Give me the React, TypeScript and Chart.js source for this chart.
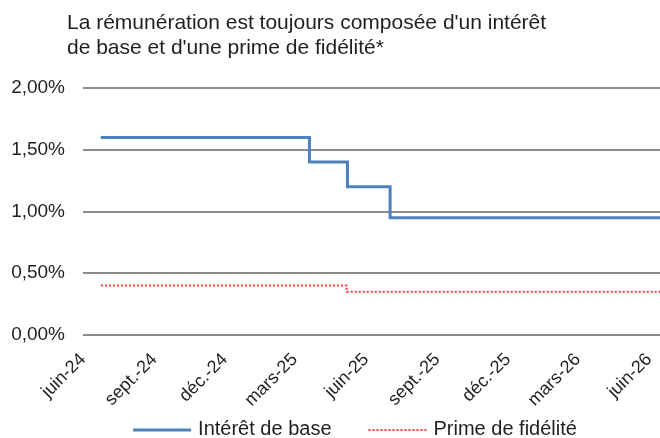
import { useEffect, useRef } from 'react';
import { Chart, registerables } from 'chart.js';

Chart.register(...registerables);

const TITLE_LINES = [
  "La rémunération est toujours composée d'un intérêt",
  "de base et d'une prime de fidélité*",
];
const TICK_DATES = [
  '2024-06-01', '2024-09-01', '2024-12-01', '2025-03-01', '2025-06-01',
  '2025-09-01', '2025-12-01', '2026-03-01', '2026-06-01',
];
const TICK_LABELS = [
  'juin-24', 'sept.-24', 'déc.-24', 'mars-25', 'juin-25',
  'sept.-25', 'déc.-25', 'mars-26', 'juin-26',
];
const X_MIN_DATE = '2024-06-01';
const X_MAX_DATE = '2026-06-15';
const Y_MIN = 0;
const Y_MAX = 2;
const Y_STEP = 0.5;

const SERIES_LABELS = ['Intérêt de base', 'Prime de fidélité'];
const BASE_DATES = ['2024-06-24', '2025-03-20', '2025-05-08', '2025-07-02', '2026-06-30'];
const BASE_VALUES = [1.6, 1.4, 1.2, 0.95, 0.95];
const PRIME_DATES = ['2024-06-24', '2025-05-07', '2026-06-30'];
const PRIME_VALUES = [0.4, 0.35, 0.35];

const FONT = "'Liberation Sans', Arial, sans-serif";
const TEXT_COLOR = '#1f1f1f';

const ORIGIN = Date.parse(X_MIN_DATE + 'T00:00:00Z');
const toDay = (s: string) => (Date.parse(s + 'T00:00:00Z') - ORIGIN) / 86400000;
const TICK_DAYS = TICK_DATES.map(toDay);

const titleShift = {
  id: 'titleShift',
  afterLayout(chart: any) {
    const t = chart.titleBlock;
    if (t) {
      t.left = 67;
    }
  },
};

const customLegend = {
  id: 'customLegend',
  afterDraw(chart: any) {
    const ctx = chart.ctx as CanvasRenderingContext2D;
    const lineLen = 58;
    const gapText = 7;
    const gapItems = 37;
    const centerX = 355;
    const y = 429;
    ctx.save();
    ctx.font = `20px ${FONT}`;
    const items = chart.data.datasets.map((ds: any) => ({
      text: ds.label as string,
      color: ds.borderColor as string,
      width: ds.borderWidth as number,
      dash: (ds.borderDash || []) as number[],
      tw: ctx.measureText(ds.label).width,
    }));
    let total = 0;
    items.forEach((it: any, i: number) => {
      total += lineLen + gapText + it.tw + (i < items.length - 1 ? gapItems : 0);
    });
    let x = centerX - total / 2;
    items.forEach((it: any) => {
      ctx.beginPath();
      ctx.setLineDash(it.dash);
      ctx.lineWidth = it.width;
      ctx.strokeStyle = it.color;
      ctx.moveTo(x, y + 1);
      ctx.lineTo(x + lineLen, y + 1);
      ctx.stroke();
      ctx.setLineDash([]);
      x += lineLen + gapText;
      ctx.fillStyle = TEXT_COLOR;
      ctx.textAlign = 'left';
      ctx.textBaseline = 'middle';
      ctx.fillText(it.text, x, y);
      x += it.tw + gapItems;
    });
    ctx.restore();
  },
};

export default function App() {
  const ref = useRef<HTMLCanvasElement | null>(null);

  useEffect(() => {
    if (!ref.current) return;
    const chart = new Chart(ref.current, {
      type: 'line',
      data: {
        datasets: [
          {
            label: SERIES_LABELS[0],
            data: BASE_DATES.map((d, i) => ({ x: toDay(d), y: BASE_VALUES[i] })),
            borderColor: '#4F81BD',
            backgroundColor: '#4F81BD',
            borderWidth: 3,
            stepped: 'before',
            pointRadius: 0,
            fill: false,
          },
          {
            label: SERIES_LABELS[1],
            data: PRIME_DATES.map((d, i) => ({ x: toDay(d), y: PRIME_VALUES[i] })),
            borderColor: '#FF3B3B',
            backgroundColor: '#FF3B3B',
            borderWidth: 2,
            borderDash: [2, 2],
            stepped: 'before',
            pointRadius: 0,
            fill: false,
          },
        ],
      },
      options: {
        animation: false,
        responsive: true,
        maintainAspectRatio: false,
        layout: { padding: 0 },
        plugins: {
          legend: { display: false },
          tooltip: { enabled: false },
          title: {
            display: true,
            text: TITLE_LINES,
            align: 'start',
            color: TEXT_COLOR,
            font: { family: FONT, size: 21, weight: 'normal', lineHeight: 25 / 21 },
            padding: { top: 11, bottom: 27 },
          },
        },
        scales: {
          x: {
            type: 'linear',
            min: 0,
            max: toDay(X_MAX_DATE),
            grid: { display: false, drawTicks: false },
            border: { display: false },
            afterBuildTicks: (scale: any) => {
              scale.ticks = TICK_DAYS.map((v) => ({ value: v }));
            },
            afterFit: (scale: any) => {
              scale.height = 103;
              scale.paddingRight = 0;
            },
            ticks: {
              autoSkip: false,
              minRotation: 45,
              maxRotation: 45,
              padding: 14,
              color: TEXT_COLOR,
              font: { family: FONT, size: 18 },
              callback: (v: any) => {
                const i = TICK_DAYS.indexOf(Number(v));
                return i >= 0 ? TICK_LABELS[i] : '';
              },
            },
          },
          y: {
            min: Y_MIN,
            max: Y_MAX,
            grid: { color: '#8c8c8c', lineWidth: 2, drawTicks: false },
            border: { display: false },
            afterFit: (scale: any) => {
              scale.width = 83;
            },
            ticks: {
              stepSize: Y_STEP,
              padding: 18,
              color: TEXT_COLOR,
              font: { family: FONT, size: 19 },
              callback: (v: any) => Number(v).toFixed(2).replace('.', ',') + '%',
            },
          },
        },
      },
      plugins: [titleShift, customLegend],
    });
    return () => chart.destroy();
  }, []);

  return (
    <div style={{ position: 'absolute', left: 0, top: 0, width: 660, height: 438, background: '#fff' }}>
      <canvas ref={ref} />
    </div>
  );
}
